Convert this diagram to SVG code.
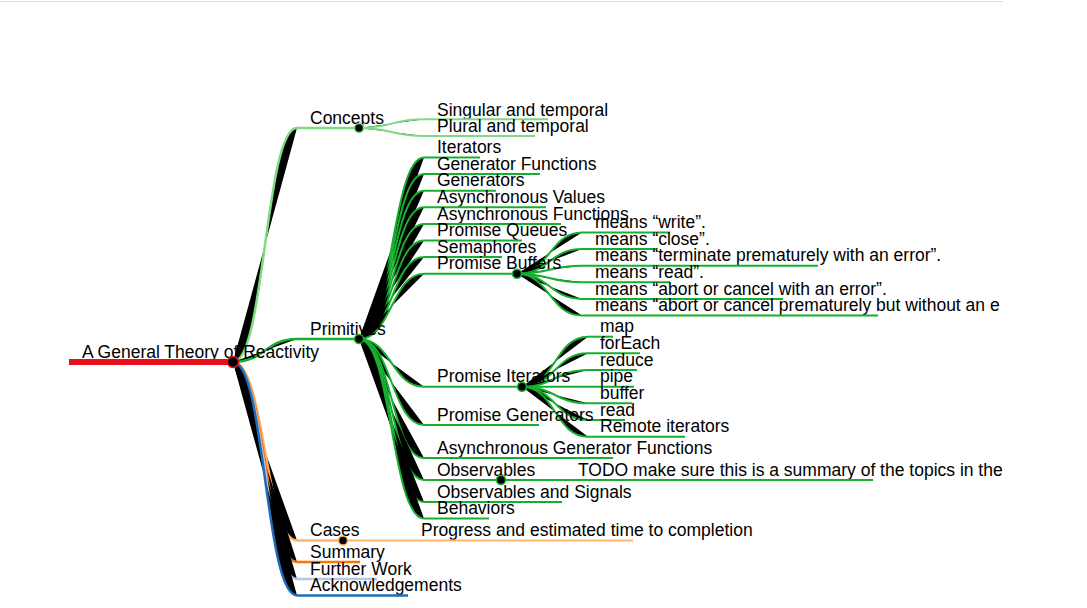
<svg xmlns="http://www.w3.org/2000/svg" width="1087" height="608" viewBox="0 0 1087 608">
<defs>
<style>
text{font-family:"Liberation Sans",Arial,sans-serif;font-size:17.5px;fill:#000}
.ln{fill:none;stroke-linecap:butt}
.lk{fill:#000;stroke-width:2}
.lk1{fill:#000;stroke-width:2.5}
.c{fill:#000;stroke-width:1.5}
.red{stroke:#e8101a}.lg{stroke:#7ddc83}.g{stroke:#16b02e}.lo{stroke:#ffb46a}.o{stroke:#ff7300}.lb{stroke:#b5c7ea}.b{stroke:#1e6dbd}
.d1{stroke-width:2.5}.d2{stroke-width:2}
</style>
<clipPath id="clip"><rect x="0" y="0" width="1003" height="608"/></clipPath>
</defs>
<rect width="1087" height="608" fill="#fff"/>
<line x1="0" y1="1.5" x2="1003" y2="1.5" stroke="#dcdcdc" stroke-width="1"/>
<g clip-path="url(#clip)">
<g id="connectors">
<path class="lk1 lg" d="M233 362 C265 362 265 128 297 128"/>
<path class="lk1 g" d="M233 362 C265 362 265 339 297 339"/>
<path class="lk1 lo" d="M233 362 C265 362 265 540.5 297 540.5"/>
<path class="lk1 o" d="M233 362 C265 362 265 562 297 562"/>
<path class="lk1 lb" d="M233 362 C265 362 265 579 297 579"/>
<path class="lk1 b" d="M233 362 C265 362 265 595.5 297 595.5"/>
<path class="lk lg" d="M359 128 C391.5 128 391.5 119.3 424 119.3"/>
<path class="lk lg" d="M359 128 C391.5 128 391.5 136 424 136"/>
<path class="lk g" d="M359 339 C391.5 339 391.5 157.5 424 157.5"/>
<path class="lk g" d="M359 339 C391.5 339 391.5 174.1 424 174.1"/>
<path class="lk g" d="M359 339 C391.5 339 391.5 190.7 424 190.7"/>
<path class="lk g" d="M359 339 C391.5 339 391.5 207.3 424 207.3"/>
<path class="lk g" d="M359 339 C391.5 339 391.5 223.9 424 223.9"/>
<path class="lk g" d="M359 339 C391.5 339 391.5 240.5 424 240.5"/>
<path class="lk g" d="M359 339 C391.5 339 391.5 257.1 424 257.1"/>
<path class="lk g" d="M359 339 C391.5 339 391.5 273.7 424 273.7"/>
<path class="lk g" d="M359 339 C391.5 339 391.5 386.7 424 386.7"/>
<path class="lk g" d="M359 339 C391.5 339 391.5 425 424 425"/>
<path class="lk g" d="M359 339 C391.5 339 391.5 458 424 458"/>
<path class="lk g" d="M359 339 C391.5 339 391.5 480 424 480"/>
<path class="lk g" d="M359 339 C391.5 339 391.5 502 424 502"/>
<path class="lk g" d="M359 339 C391.5 339 391.5 518.5 424 518.5"/>
<path class="lk g" d="M517 273.7 C549.5 273.7 549.5 232.5 582 232.5"/>
<path class="lk g" d="M517 273.7 C549.5 273.7 549.5 249.1 582 249.1"/>
<path class="lk g" d="M517 273.7 C549.5 273.7 549.5 265.7 582 265.7"/>
<path class="lk g" d="M517 273.7 C549.5 273.7 549.5 282.3 582 282.3"/>
<path class="lk g" d="M517 273.7 C549.5 273.7 549.5 298.9 582 298.9"/>
<path class="lk g" d="M517 273.7 C549.5 273.7 549.5 315.5 582 315.5"/>
<path class="lk g" d="M522 386.7 C555 386.7 555 336.7 588 336.7"/>
<path class="lk g" d="M522 386.7 C555 386.7 555 353.3 588 353.3"/>
<path class="lk g" d="M522 386.7 C555 386.7 555 370 588 370"/>
<path class="lk g" d="M522 386.7 C555 386.7 555 386.7 588 386.7"/>
<path class="lk g" d="M522 386.7 C555 386.7 555 403.3 588 403.3"/>
<path class="lk g" d="M522 386.7 C555 386.7 555 420 588 420"/>
<path class="lk g" d="M522 386.7 C555 386.7 555 436.7 588 436.7"/>
<path class="lk g" d="M501 480 C533.5 480 533.5 480 566 480"/>
<path class="lk lo" d="M343 540.5 C376 540.5 376 540.5 409 540.5"/>
</g>
<g id="root">
<text x="82" y="357.5">A General Theory of Reactivity</text>
<line class="ln red" x1="69" y1="362" x2="233" y2="362" stroke-width="6"/>
<circle class="c red" cx="233" cy="362" r="5.5"/>
</g>
<g id="concepts">
<text x="310" y="124">Concepts</text>
<line class="ln lg d1" x1="297" y1="128" x2="359" y2="128"/>
<circle class="c lg" cx="359" cy="128" r="4.5"/>
</g>
<g id="singular"><text x="437" y="115.5">Singular and temporal</text><line class="ln lg d2" x1="424" y1="119.3" x2="548" y2="119.3"/></g>
<g id="plural"><text x="437" y="132">Plural and temporal</text><line class="ln lg d2" x1="424" y1="136" x2="535" y2="136"/></g>
<g id="primitives">
<text x="310" y="335">Primitives</text>
<line class="ln g d1" x1="297" y1="339" x2="359" y2="339"/>
<circle class="c g" cx="359" cy="339" r="4.5"/>
</g>
<g id="iterators"><text x="437" y="153.2">Iterators</text><line class="ln g d2" x1="424" y1="157.5" x2="480" y2="157.5"/></g>
<g id="generator-functions"><text x="437" y="169.8">Generator Functions</text><line class="ln g d2" x1="424" y1="174.1" x2="540" y2="174.1"/></g>
<g id="generators"><text x="437" y="186.4">Generators</text><line class="ln g d2" x1="424" y1="190.7" x2="496" y2="190.7"/></g>
<g id="async-values"><text x="437" y="203">Asynchronous Values</text><line class="ln g d2" x1="424" y1="207.3" x2="546" y2="207.3"/></g>
<g id="async-functions"><text x="437" y="219.6">Asynchronous Functions</text><line class="ln g d2" x1="424" y1="223.9" x2="561" y2="223.9"/></g>
<g id="promise-queues"><text x="437" y="236.2">Promise Queues</text><line class="ln g d2" x1="424" y1="240.5" x2="522" y2="240.5"/></g>
<g id="semaphores"><text x="437" y="252.8">Semaphores</text><line class="ln g d2" x1="424" y1="257.1" x2="502" y2="257.1"/></g>
<g id="promise-buffers"><text x="437" y="269.4">Promise Buffers</text><line class="ln g d2" x1="424" y1="273.7" x2="517" y2="273.7"/><circle class="c g" cx="517" cy="273.7" r="4.5"/></g>
<g id="pb-write"><text x="595" y="228.2">means “write”.</text><line class="ln g d2" x1="582" y1="232.5" x2="670" y2="232.5"/></g>
<g id="pb-close"><text x="595" y="244.8">means “close”.</text><line class="ln g d2" x1="582" y1="249.1" x2="657" y2="249.1"/></g>
<g id="pb-terminate"><text x="595" y="261.4">means “terminate prematurely with an error”.</text><line class="ln g d2" x1="582" y1="265.7" x2="818" y2="265.7"/></g>
<g id="pb-read"><text x="595" y="278">means “read”.</text><line class="ln g d2" x1="582" y1="282.3" x2="670" y2="282.3"/></g>
<g id="pb-abort-error"><text x="595" y="294.6">means “abort or cancel with an error”.</text><line class="ln g d2" x1="582" y1="298.9" x2="783" y2="298.9"/></g>
<g id="pb-abort-premature"><text x="595" y="311.2">means “abort or cancel prematurely but without an e</text><line class="ln g d2" x1="582" y1="315.5" x2="878" y2="315.5"/></g>
<g id="promise-iterators"><text x="437" y="382">Promise Iterators</text><line class="ln g d2" x1="424" y1="386.7" x2="522" y2="386.7"/><circle class="c g" cx="522" cy="386.7" r="4.5"/></g>
<g id="pi-map"><text x="600" y="332.4">map</text><line class="ln g d2" x1="588" y1="336.7" x2="613" y2="336.7"/></g>
<g id="pi-foreach"><text x="600" y="349">forEach</text><line class="ln g d2" x1="588" y1="353.3" x2="640" y2="353.3"/></g>
<g id="pi-reduce"><text x="600" y="365.7">reduce</text><line class="ln g d2" x1="588" y1="370" x2="637" y2="370"/></g>
<g id="pi-pipe"><text x="600" y="382.4">pipe</text><line class="ln g d2" x1="588" y1="386.7" x2="634" y2="386.7"/></g>
<g id="pi-buffer"><text x="600" y="399">buffer</text><line class="ln g d2" x1="588" y1="403.3" x2="632" y2="403.3"/></g>
<g id="pi-read"><text x="600" y="415.7">read</text><line class="ln g d2" x1="588" y1="420" x2="625" y2="420"/></g>
<g id="pi-remote"><text x="600" y="432.4">Remote iterators</text><line class="ln g d2" x1="588" y1="436.7" x2="685" y2="436.7"/></g>
<g id="promise-generators"><text x="437" y="420.5">Promise Generators</text><line class="ln g d2" x1="424" y1="425" x2="539" y2="425"/></g>
<g id="async-generator-functions"><text x="437" y="453.5">Asynchronous Generator Functions</text><line class="ln g d2" x1="424" y1="458" x2="613" y2="458"/></g>
<g id="observables"><text x="437" y="475.5">Observables</text><line class="ln g d2" x1="424" y1="480" x2="501" y2="480"/><circle class="c g" cx="501" cy="480" r="4.5"/></g>
<g id="obs-todo"><text x="578" y="475.5">TODO make sure this is a summary of the topics in the</text><line class="ln g d2" x1="566" y1="480" x2="873" y2="480"/></g>
<g id="observables-signals"><text x="437" y="497.5">Observables and Signals</text><line class="ln g d2" x1="424" y1="502" x2="562" y2="502"/></g>
<g id="behaviors"><text x="437" y="514">Behaviors</text><line class="ln g d2" x1="424" y1="518.5" x2="489" y2="518.5"/></g>
<g id="cases"><text x="310" y="536">Cases</text><line class="ln lo d1" x1="297" y1="540.5" x2="343" y2="540.5"/><circle class="c lo" cx="343" cy="540.5" r="4.5"/></g>
<g id="progress"><text x="421" y="536">Progress and estimated time to completion</text><line class="ln lo d2" x1="409" y1="540.5" x2="633" y2="540.5"/></g>
<g id="summary"><text x="310" y="557.5">Summary</text><line class="ln o d1" x1="297" y1="562" x2="360" y2="562"/></g>
<g id="further-work"><text x="310" y="574.5">Further Work</text><line class="ln lb d1" x1="297" y1="579" x2="377" y2="579"/></g>
<g id="acknowledgements"><text x="310" y="591">Acknowledgements</text><line class="ln b d1" x1="297" y1="595.5" x2="408" y2="595.5"/></g>
</g>
</svg>
